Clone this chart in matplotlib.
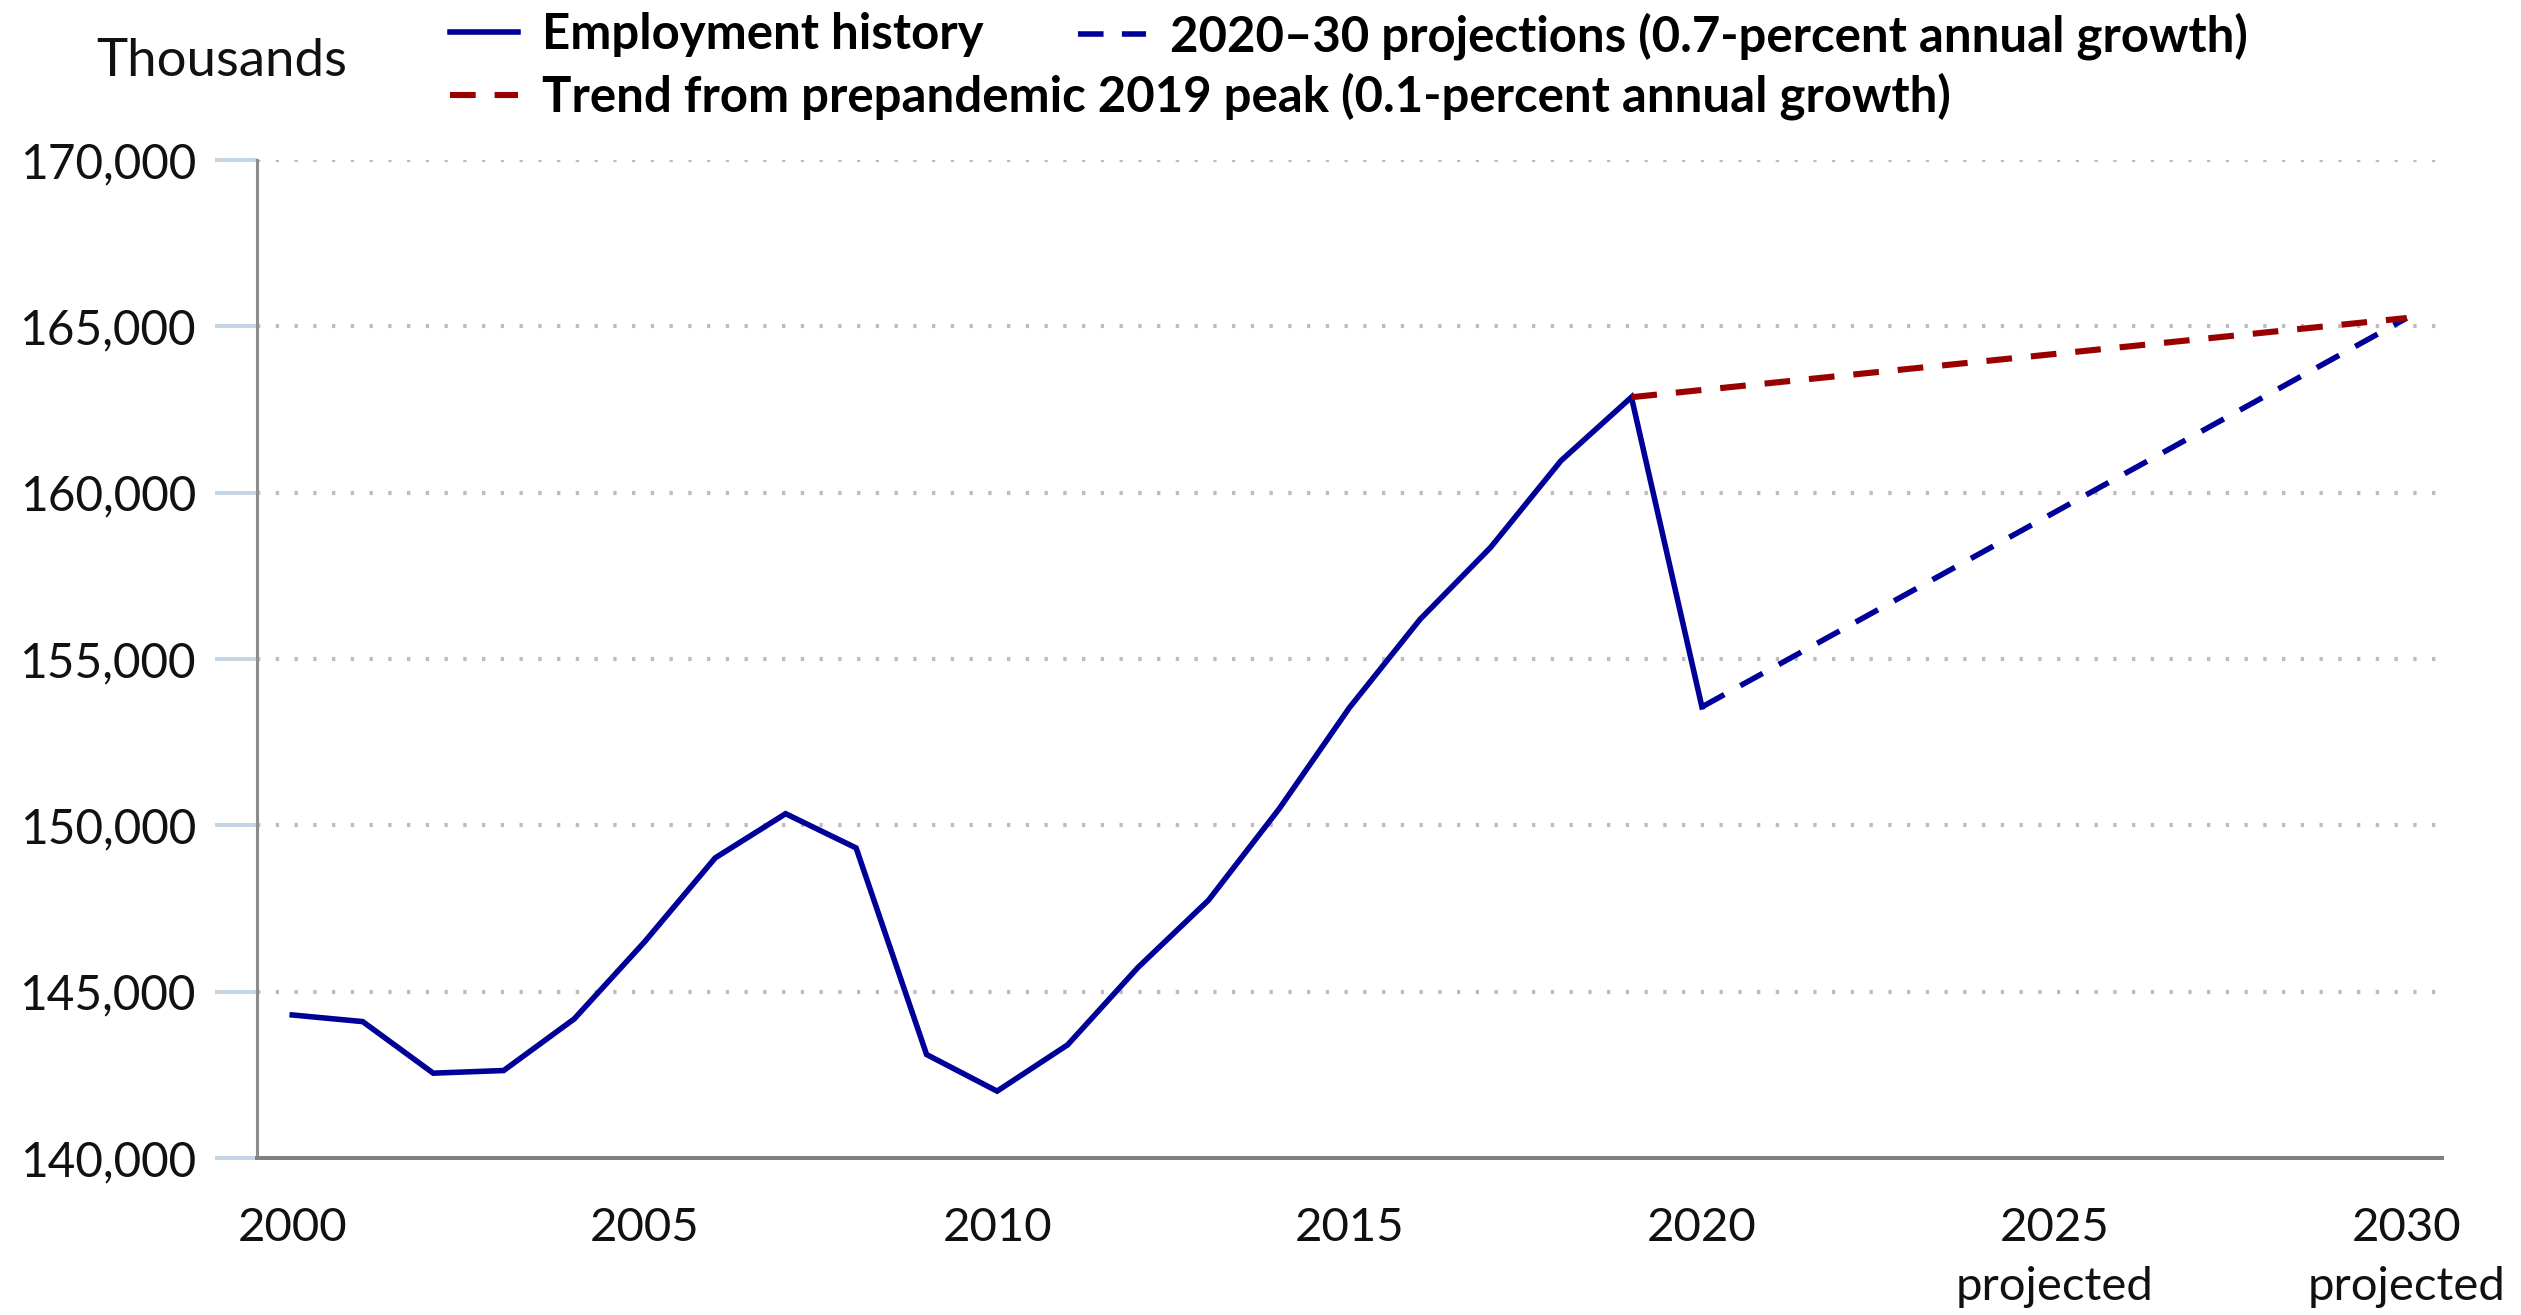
import matplotlib
matplotlib.use("Agg")
import matplotlib.pyplot as plt
from matplotlib.ticker import FuncFormatter

# ---- data (thousands) ----
hist_years = list(range(2000, 2021))
hist_employment = [144300, 144100, 142550, 142630, 144180, 146500, 149020,
                   150350, 149320, 143110, 142010, 143400, 145730, 147750,
                   150490, 153540, 156190, 158350, 160960, 162870, 153560]
proj_years = [2020, 2030]
proj_employment = [153560, 165250]
trend_years = [2019, 2030]
trend_employment = [162870, 165250]

x_ticks = [2000, 2005, 2010, 2015, 2020, 2025, 2030]
x_tick_labels = ["2000", "2005", "2010", "2015", "2020",
                 "2025\nprojected", "2030\nprojected"]
y_ticks = [140000, 145000, 150000, 155000, 160000, 165000, 170000]

label_hist = "Employment history"
label_proj = "2020\u201330 projections (0.7-percent annual growth)"
label_trend = "Trend from prepandemic 2019 peak (0.1-percent annual growth)"

BLUE = "#000099"
RED = "#990000"

plt.rcParams["font.family"] = ["Lato", "DejaVu Sans"]

W, H, DPI = 2521, 1315, 200
fig = plt.figure(figsize=(W / DPI, H / DPI), dpi=DPI)
ax = fig.add_axes([257 / W, (H - 1158) / H, (2442 - 257) / W, (1158 - 160) / H])

l_hist, = ax.plot(hist_years, hist_employment, color=BLUE, lw=2.0,
                  solid_joinstyle="miter", label=label_hist, zorder=3)
l_proj, = ax.plot(proj_years, proj_employment, color=BLUE, lw=2.0,
                  linestyle=(0, (4.6, 3.3)), label=label_proj, zorder=3)
l_trend, = ax.plot(trend_years, trend_employment, color=RED, lw=2.2,
                   linestyle=(0, (4.2, 3.1)), label=label_trend, zorder=3)

ax.set_xlim(1999.5, 2030.5)
ax.set_ylim(140000, 170000)
ax.set_yticks(y_ticks)
ax.yaxis.set_major_formatter(FuncFormatter(lambda v, p: f"{int(v):,}"))
ax.set_xticks(x_ticks)
ax.set_xticklabels(x_tick_labels, linespacing=1.5)

ax.tick_params(axis="y", length=15, width=1.44, color="#c5d5e5", pad=7.0,
               labelsize=17.2, labelcolor="#111111")
ax.tick_params(axis="x", length=0, pad=17.5, labelsize=17, labelcolor="#111111")

for s in ["top", "right"]:
    ax.spines[s].set_visible(False)
ax.spines["left"].set_color("#8c8c8c")
ax.spines["left"].set_linewidth(1.1)
ax.spines["bottom"].set_color("#808080")
ax.spines["bottom"].set_linewidth(1.44)
ax.spines["bottom"].set_zorder(4)

ax.grid(axis="y", color="#bdbdbd", linestyle=(0, (0.8, 3.7)), lw=1.5)
ax.set_axisbelow(True)

fig.text(96 / W, (H - 61) / H, "Thousands", ha="left", va="center",
         fontsize=19, color="#111111")

leg_kw = dict(frameon=False, borderpad=0, borderaxespad=0, loc="upper left",
              handlelength=1.38, handletextpad=0.49, labelspacing=0.32,
              prop={"weight": "bold", "size": 17.7})
leg1 = fig.legend(handles=[l_hist, l_trend], bbox_to_anchor=(450 / W, 1 - 12 / H),
                  **leg_kw)
leg2 = fig.legend(handles=[l_proj], bbox_to_anchor=(1078 / W, 1 - 12 / H), **leg_kw)

fig.savefig("out.png", dpi=DPI)
